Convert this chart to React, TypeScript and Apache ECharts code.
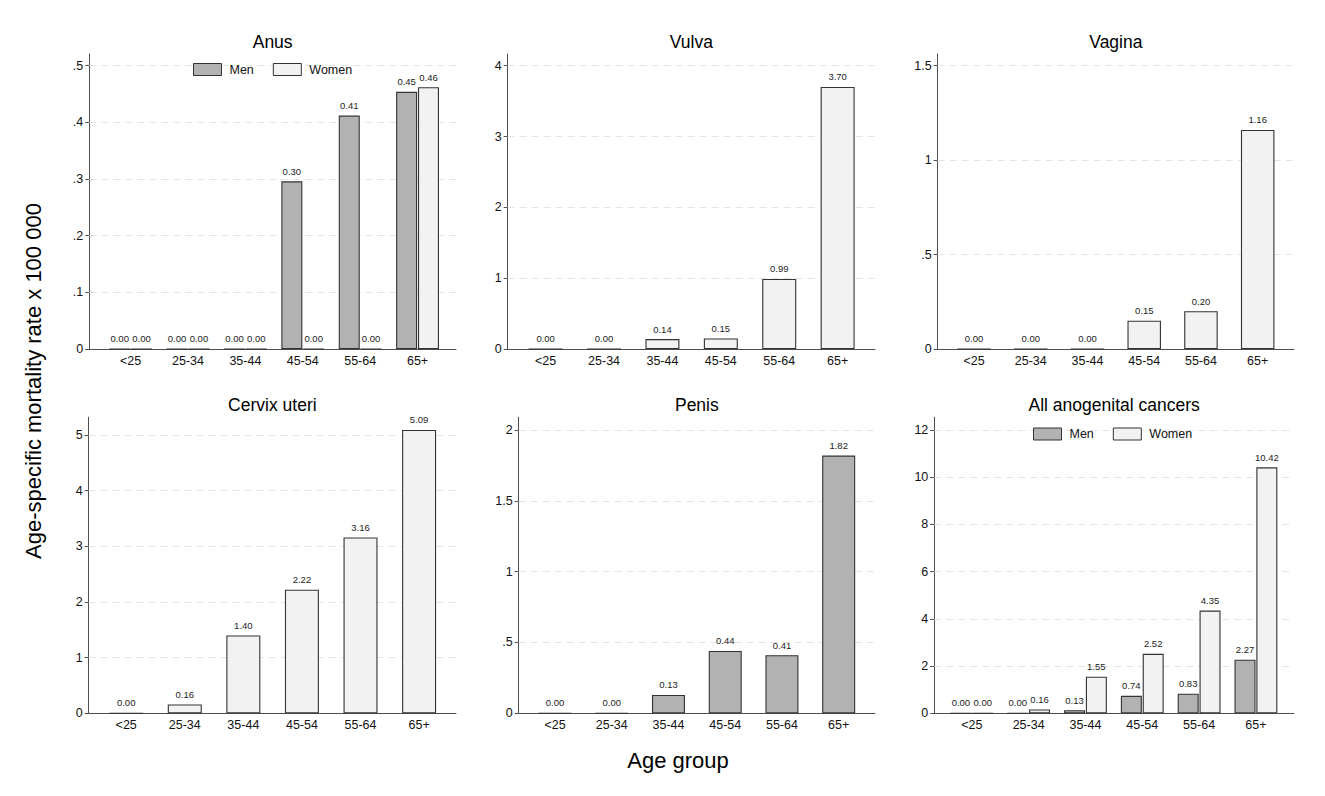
import React, { useEffect, useRef } from "react";
import * as echarts from "echarts";

// ---------- data ----------
const ageGroups = ["<25", "25-34", "35-44", "45-54", "55-64", "65+"];

const anusMen = [0, 0, 0, 0.296, 0.412, 0.454];
const anusWomen = [0, 0, 0, 0, 0, 0.462];
const vulvaWomen = [0, 0, 0.14, 0.15, 0.99, 3.7];
const vaginaWomen = [0, 0, 0, 0.15, 0.2, 1.16];
const cervixWomen = [0, 0.16, 1.4, 2.22, 3.16, 5.09];
const penisMen = [0, 0, 0.13, 0.44, 0.41, 1.82];
const allMen = [0, 0, 0.13, 0.74, 0.83, 2.27];
const allWomen = [0, 0.16, 1.55, 2.52, 4.35, 10.42];

const anusTicks = [0, 0.1, 0.2, 0.3, 0.4, 0.5];
const vulvaTicks = [0, 1, 2, 3, 4];
const vaginaTicks = [0, 0.5, 1, 1.5];
const cervixTicks = [0, 1, 2, 3, 4, 5];
const penisTicks = [0, 0.5, 1, 1.5, 2];
const allTicks = [0, 2, 4, 6, 8, 10, 12];

const seriesNames = ["Men", "Women"];
const yAxisTitle = "Age-specific mortality rate x 100 000";
const xAxisTitle = "Age group";

// ---------- styling / layout ----------
const FONT = "'Liberation Sans', Arial, Helvetica, sans-serif";
const COLORS: Record<string, string> = { Men: "#b2b2b2", Women: "#f2f2f2" };
const AXIS = "#4d4d4d";

type PanelSeries = { name: string; values: number[] };
type Panel = {
  title: string;
  ticks: number[];
  yMax: number;
  xMin: number;
  xMax: number;
  left: number;
  right: number;
  top: number;
  base: number;
  barWidth: number;
  series: PanelSeries[];
  legend?: { left: number; top: number };
};

const panels: Panel[] = [
  {
    title: "Anus", ticks: anusTicks, yMax: 0.5207, xMin: -0.72, xMax: 5.67,
    left: 89.3, right: 456, top: 54, base: 349, barWidth: 21,
    series: [{ name: "Men", values: anusMen }, { name: "Women", values: anusWomen }],
    legend: { left: 193, top: 63 },
  },
  {
    title: "Vulva", ticks: vulvaTicks, yMax: 4.165, xMin: -0.65, xMax: 5.64,
    left: 507.7, right: 875, top: 54, base: 349, barWidth: 34,
    series: [{ name: "Women", values: vulvaWomen }],
  },
  {
    title: "Vagina", ticks: vaginaTicks, yMax: 1.562, xMin: -0.64, xMax: 5.64,
    left: 937.7, right: 1294, top: 54, base: 349, barWidth: 33.5,
    series: [{ name: "Women", values: vaginaWomen }],
  },
  {
    title: "Cervix uteri", ticks: cervixTicks, yMax: 5.318, xMin: -0.64, xMax: 5.63,
    left: 88.7, right: 456, top: 417.3, base: 713.3, barWidth: 34,
    series: [{ name: "Women", values: cervixWomen }],
  },
  {
    title: "Penis", ticks: penisTicks, yMax: 2.09, xMin: -0.64, xMax: 5.64,
    left: 518.7, right: 875, top: 417.3, base: 713.3, barWidth: 33,
    series: [{ name: "Men", values: penisMen }],
  },
  {
    title: "All anogenital cancers", ticks: allTicks, yMax: 12.538, xMin: -0.66, xMax: 5.67,
    left: 934.3, right: 1294, top: 417.3, base: 713.3, barWidth: 21,
    series: [{ name: "Men", values: allMen }, { name: "Women", values: allWomen }],
    legend: { left: 1033, top: 427.5 },
  },
];

const fmtTick = (v: number) => {
  if (v === 0) return "0";
  const s = String(Math.round(v * 1000) / 1000);
  return s.replace(/^0\./, ".");
};

function buildOption() {
  const grid: any[] = [];
  const xAxis: any[] = [];
  const yAxis: any[] = [];
  const series: any[] = [];
  const legend: any[] = [];
  const graphic: any[] = [];
  const catIdx = ageGroups.map((_, i) => i);

  panels.forEach((p, i) => {
    grid.push({ left: p.left, top: p.top, width: p.right - p.left, height: p.base - p.top, containLabel: false });
    xAxis.push({
      gridIndex: i, type: "value", min: p.xMin, max: p.xMax,
      axisLine: { show: true, onZero: false, lineStyle: { color: AXIS, width: 1 } },
      axisTick: { show: false },
      splitLine: { show: false },
      axisLabel: {
        customValues: catIdx,
        formatter: (v: number) => ageGroups[Math.round(v)] ?? "",
        fontSize: 12.5, color: "#111", fontFamily: FONT, margin: 5,
      },
    });
    yAxis.push({
      gridIndex: i, type: "value", min: 0, max: p.yMax,
      axisLine: { show: true, onZero: false, lineStyle: { color: AXIS, width: 1 } },
      axisTick: { show: true, length: 4, customValues: p.ticks, lineStyle: { color: AXIS } },
      axisLabel: {
        customValues: p.ticks, formatter: fmtTick,
        fontSize: 12.5, color: "#111", fontFamily: FONT, margin: 6,
      },
      splitLine: { show: false },
    });
    p.series.forEach((s, k) => {
      const ser: any = {
        type: "bar", name: s.name, xAxisIndex: i, yAxisIndex: i,
        data: s.values.map((v, j) => [j, v]),
        barWidth: p.barWidth, barGap: "4%",
        itemStyle: { color: COLORS[s.name], borderColor: "#333", borderWidth: 1.1 },
        label: {
          show: true, position: "top", distance: 5, fontSize: 9.5, color: "#222", fontFamily: FONT,
          formatter: (prm: any) => Number(prm.value[1]).toFixed(2),
        },
        emphasis: { disabled: true },
        silent: true,
        z: 2,
      };
      if (k === 0) {
        ser.markLine = {
          silent: true, symbol: ["none", "none"], z: 1, animation: false,
          label: { show: false },
          lineStyle: { type: [7, 5], color: "#e4e4e4", width: 1 },
          emphasis: { disabled: true },
          data: p.ticks.filter((t) => t > 0).map((t) => ({ yAxis: t })),
        };
      }
      series.push(ser);
    });
    if (p.legend) {
      legend.push({
        data: seriesNames, left: p.legend.left, top: p.legend.top, padding: 0,
        icon: "rect", itemWidth: 28, itemHeight: 12, itemGap: 19,
        selectedMode: false,
        itemStyle: { borderColor: "#333", borderWidth: 1 },
        textStyle: { fontSize: 12.5, color: "#111", fontFamily: FONT, padding: [0, 0, 0, 3] },
      });
    }
    graphic.push({
      type: "text", x: (p.left + p.right) / 2, y: p.top - 12,
      silent: true,
      style: {
        text: p.title, fontSize: 17.5, fontFamily: FONT, fill: "#000",
        textAlign: "center", textVerticalAlign: "middle",
      },
    });
  });

  graphic.push({
    type: "text", x: 33.5, y: 381, rotation: Math.PI / 2, silent: true,
    style: {
      text: yAxisTitle, fontSize: 22, fontFamily: FONT, fill: "#000",
      textAlign: "center", textVerticalAlign: "middle",
    },
  });
  graphic.push({
    type: "text", x: 678, y: 760, silent: true,
    style: {
      text: xAxisTitle, fontSize: 22, fontFamily: FONT, fill: "#000",
      textAlign: "center", textVerticalAlign: "middle",
    },
  });

  return {
    animation: false,
    backgroundColor: "#ffffff",
    textStyle: { fontFamily: FONT },
    grid, xAxis, yAxis, series, legend, graphic,
  };
}

export default function App() {
  const ref = useRef<HTMLDivElement>(null);
  useEffect(() => {
    document.body.style.margin = "0";
    document.body.style.overflow = "hidden";
    if (!ref.current) return;
    const chart = echarts.init(ref.current, undefined, { renderer: "svg" });
    chart.setOption(buildOption());
    return () => chart.dispose();
  }, []);
  return <div ref={ref} style={{ width: 1325, height: 796, background: "#fff" }} />;
}
